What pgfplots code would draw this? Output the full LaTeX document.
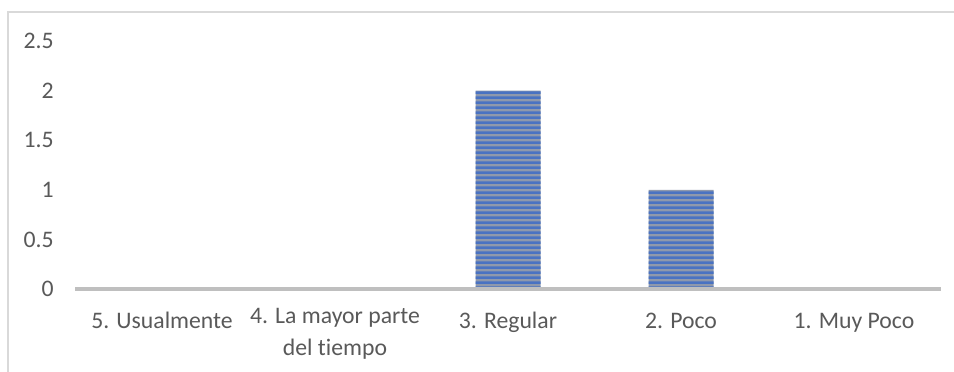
\documentclass[border=0pt]{standalone}
\usepackage{pgfplots}
\pgfplotsset{compat=1.18}
\usepackage{fontspec}
\setmainfont{Carlito}[Ligatures={NoCommon}]

\definecolor{labelgray}{HTML}{595959}
\definecolor{axisgray}{HTML}{BFBFBF}
\definecolor{framegray}{HTML}{D9D9D9}
\definecolor{barstripe}{HTML}{3D6CC6}
\definecolor{baredge}{HTML}{8E98AC}
\definecolor{barmid}{HTML}{EEF3FB}

\begin{document}
\begin{tikzpicture}
\useasboundingbox (0,0) rectangle (477bp,186bp);
% chart frame
\draw[framegray, line width=0.7bp] (4bp,0) -- (4bp,180bp) -- (477bp,180bp);

\begin{axis}[
  at={(37.75bp,41.5bp)}, anchor=south west,
  scale only axis,
  width=432.5bp, height=124bp,
  xmin=-0.5, xmax=4.5,
  ymin=0, ymax=2.5,
  ytick={0,0.5,1,1.5,2,2.5},
  xtick={0,1,2,3,4},
  xticklabels={5. Usualmente,{4. La mayor parte\\[1.5bp]del tiempo},3. Regular,2. Poco,1. Muy Poco},
  major tick length=0pt,
  axis x line*=bottom,
  axis y line*=left,
  y axis line style={draw=none},
  x axis line style={axisgray, line width=1.7bp, -},
  axis on top,
  /pgf/number format/assume math mode=true,
  tick label style={font=\fontsize{11.9}{14.2}\selectfont, text=labelgray},
  yticklabel style={anchor=east, inner sep=0pt, xshift=-10.75bp},
  xticklabel style={anchor=north, align=center, inner sep=0pt,
    execute at begin node=\strut, yshift=-9.6bp},
  clip=false,
]
% striped bars: a soft horizontal shading with thin blue bands on top
\addplot[ybar, bar width=32.5bp, draw=none,
  left color=baredge, middle color=barmid, right color=baredge,
  path picture={
    \pgfpointanchor{path picture bounding box}{south west}\pgfgetlastxy{\xa}{\ya}
    \pgfpointanchor{path picture bounding box}{north east}\pgfgetlastxy{\xb}{\yb}
    \pgfsetfillcolor{barstripe}
    \pgfsetfillopacity{0.85}
    \foreach \k in {0,...,90}{
      \pgfpathrectangle{\pgfpoint{\xa}{\ya+\k*2.5bp}}{\pgfpoint{\xb-\xa}{1.3bp}}
    }
    \pgfusepath{fill}
  }]
  coordinates {(0,0) (1,0) (2,2) (3,1) (4,0)};
\end{axis}
\end{tikzpicture}
\end{document}
